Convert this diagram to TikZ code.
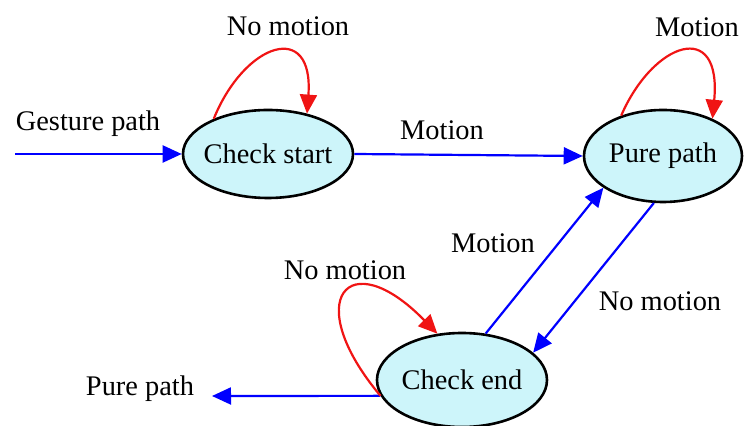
\documentclass[tikz,border=0pt]{standalone}
\usepackage{fontspec}
\setmainfont{Liberation Serif}
\usetikzlibrary{arrows.meta,shapes.geometric}
\definecolor{statefill}{RGB}{205,245,250}
\definecolor{loopred}{RGB}{240,20,20}
\begin{document}
\begin{tikzpicture}[x=0.5pt,y=-0.5pt,
  every node/.style={font=\fontsize{14.2pt}{16pt}\selectfont},
  state/.style={ellipse,draw=black,line width=1.3pt,fill=statefill,
    inner sep=0pt,minimum width=85pt,minimum height=45pt},
  tip/.style={-{Triangle[length=9.5pt,width=8.5pt]}},
  flow/.style={tip,draw=blue,line width=1.1pt},
  loopedge/.style={tip,draw=loopred,line width=1.1pt},
  lbl/.style={inner sep=0pt}]
\useasboundingbox (0,0) rectangle (744,426);

% states
\node[state,minimum width=85pt,minimum height=44pt] (cs) at (268,154) {\makebox[0pt]{Check start}};
\node[state,minimum width=79pt,minimum height=46pt] (pp) at (663,156) {\makebox[0pt]{Pure path}};
\node[state,minimum width=85pt,minimum height=47pt] (ce) at (462,380) {\makebox[0pt]{Check end}};

% entry and exit points
\coordinate (in) at (15,154);
\coordinate (out) at (212,396);

% transitions
\draw[flow] (in) -- (cs.west);
\draw[flow] (cs.east) -- (pp.west);
\draw[flow] (pp.259) -- (ce.21);
\draw[flow] (ce.63) -- (pp.208);
\draw[flow] (ce.191) -- (out);

% self loops
\draw[loopedge] (cs.147) .. controls (245,42) and (314,20) .. (cs.46);
\draw[loopedge] (pp.136) .. controls (653,42) and (722,18) .. (pp.37);
\draw[loopedge] (ce.191) .. controls (300,300) and (348,242) .. (ce.118);

% labels
\node[lbl] (lgp) at (88,124) {Gesture path};
\node[lbl] (lm1) at (442,130) {Motion};
\node[lbl] (lnm1) at (288,26) {No motion};
\node[lbl] (lm2) at (697,27) {Motion};
\node[lbl] (lm3) at (493,243) {Motion};
\node[lbl] (lnm2) at (660,301) {No motion};
\node[lbl] (lnm3) at (345,270) {No motion};
\node[lbl] (lpp) at (140,389) {Pure path};
\end{tikzpicture}
\end{document}
